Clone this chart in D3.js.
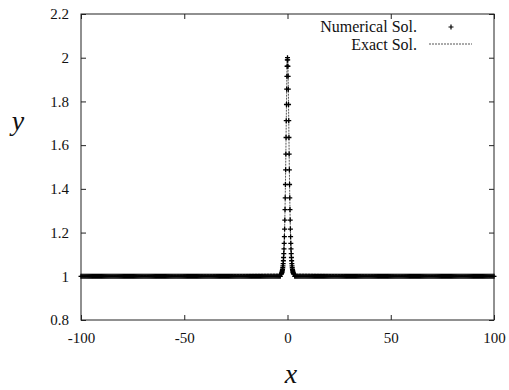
<!DOCTYPE html>
<html>
<head>
<meta charset="utf-8">
<script src="https://cdn.jsdelivr.net/npm/d3@7"></script>
<style>
  html, body { margin: 0; padding: 0; background: #fff; }
</style>
</head>
<body>
<div id="chart"></div>
<script>
// tick labels
const xTicks = [-100, -50, 0, 50, 100];
const yTicks = [0.8, 1, 1.2, 1.4, 1.6, 1.8, 2, 2.2];

// numerical solution around the peak
const peakX = [-3, -2.9, -2.8, -2.7, -2.6, -2.5, -2.4, -2.3, -2.2, -2.1, -2, -1.9, -1.8, -1.7, -1.6,
  -1.5, -1.4, -1.3, -1.2, -1.1, -1, -0.9, -0.8, -0.7, -0.6, -0.5, -0.4, -0.3, -0.2, -0.1, 0,
  0.1, 0.2, 0.3, 0.4, 0.5, 0.6, 0.7, 0.8, 0.9, 1, 1.1, 1.2, 1.3, 1.4, 1.5,
  1.6, 1.7, 1.8, 1.9, 2, 2.1, 2.2, 2.3, 2.4, 2.5, 2.6, 2.7, 2.8, 2.9, 3];
const peakY = [1.010, 1.012, 1.015, 1.018, 1.022, 1.027, 1.032, 1.039, 1.048, 1.058, 1.071, 1.086, 1.104, 1.125, 1.151,
  1.181, 1.216, 1.257, 1.305, 1.359, 1.420, 1.487, 1.559, 1.635, 1.712, 1.786, 1.856, 1.915, 1.961, 1.990, 2.000,
  1.990, 1.961, 1.915, 1.856, 1.786, 1.712, 1.635, 1.559, 1.487, 1.420, 1.359, 1.305, 1.257, 1.216, 1.181,
  1.151, 1.125, 1.104, 1.086, 1.071, 1.058, 1.048, 1.039, 1.032, 1.027, 1.022, 1.018, 1.015, 1.012, 1.010];

// flat part of the solution: level and grid spacing of the numerical points
const flatLevel = 1;
const gridStep = 0.5;

const legendLabels = ["Numerical Sol.", "Exact Sol."];

const serif = "'Liberation Serif', 'DejaVu Serif', serif";

// layout
const width = 509, height = 390;
const margin = { top: 14, right: 15, bottom: 70, left: 81 };
const innerWidth = width - margin.left - margin.right;
const innerHeight = height - margin.top - margin.bottom;

const svg = d3.select("#chart").append("svg")
  .attr("width", width)
  .attr("height", height);

const plot = svg.append("g")
  .attr("transform", `translate(${margin.left},${margin.top})`);

const x = d3.scaleLinear().domain([-100, 100]).range([0, innerWidth]);
const y = d3.scaleLinear().domain([0.8, 2.2]).range([innerHeight, 0]);

// numerical points: flat grid + peak
const numerical = [];
d3.range(-100, 100 + gridStep / 2, gridStep).forEach(v => {
  if (Math.abs(v) > 3.05) numerical.push([v, flatLevel]);
});
peakX.forEach((v, i) => numerical.push([v, peakY[i]]));
numerical.sort((a, b) => a[0] - b[0]);

// exact solution line
const exact = [[-100, flatLevel]].concat(peakX.map((v, i) => [v, peakY[i]]), [[100, flatLevel]]);

plot.append("clipPath").attr("id", "clip")
  .append("rect").attr("x", -3).attr("width", innerWidth + 6).attr("height", innerHeight);

// axes (ticks inward, mirrored)
const tick = 5;
plot.append("g")
  .attr("transform", `translate(0,${innerHeight})`)
  .call(d3.axisBottom(x).tickValues(xTicks).tickSizeInner(-tick).tickSizeOuter(0).tickPadding(12)
    .tickFormat(d => d < 0 ? "-" + Math.abs(d) : d))
  .call(g => g.select(".domain").remove())
  .call(g => g.selectAll("text").style("font-size", "15px").style("font-family", serif).attr("fill", "#111"));

plot.append("g")
  .call(d3.axisLeft(y).tickValues(yTicks).tickSizeInner(-tick).tickSizeOuter(0).tickPadding(12)
    .tickFormat(d3.format("")))
  .call(g => g.select(".domain").remove())
  .call(g => g.selectAll("text").style("font-size", "15px").style("font-family", serif).attr("fill", "#111"));

plot.append("g")
  .call(d3.axisTop(x).tickValues(xTicks).tickSizeInner(-tick).tickSizeOuter(0).tickFormat(""))
  .call(g => g.select(".domain").remove());

plot.append("g")
  .attr("transform", `translate(${innerWidth},0)`)
  .call(d3.axisRight(y).tickValues(yTicks).tickSizeInner(-tick).tickSizeOuter(0).tickFormat(""))
  .call(g => g.select(".domain").remove());

plot.selectAll(".tick line").attr("stroke", "#222");

// frame
plot.append("rect")
  .attr("width", innerWidth)
  .attr("height", innerHeight)
  .attr("fill", "none")
  .attr("stroke", "#222")
  .attr("stroke-width", 1);

const data = plot.append("g").attr("clip-path", "url(#clip)");

// exact line
data.append("path")
  .datum(exact)
  .attr("fill", "none")
  .attr("stroke", "#555")
  .attr("stroke-width", 1)
  .attr("stroke-dasharray", "2,1")
  .attr("d", d3.line().x(d => x(d[0])).y(d => y(d[1])));

// numerical markers
const plus = "M-2.5,0h5M0,-2.5v5";
data.selectAll(".pt")
  .data(numerical)
  .join("path")
  .attr("class", "pt")
  .attr("transform", d => `translate(${x(d[0])},${y(d[1])})`)
  .attr("d", plus)
  .attr("stroke", "#000")
  .attr("stroke-width", 1.3)
  .attr("fill", "none");

// legend
const legend = svg.append("g");
legend.selectAll("text")
  .data(legendLabels)
  .join("text")
  .attr("x", 417)
  .attr("y", (d, i) => 32 + i * 18)
  .attr("text-anchor", "end")
  .style("font-family", serif)
  .style("font-size", "16px")
  .attr("fill", "#111")
  .text(d => d);

legend.append("path")
  .attr("transform", "translate(451,27)")
  .attr("d", plus)
  .attr("stroke", "#000")
  .attr("stroke-width", 1.2);

legend.append("line")
  .attr("x1", 429).attr("x2", 472)
  .attr("y1", 44).attr("y2", 44)
  .attr("stroke", "#555")
  .attr("stroke-dasharray", "2,1");

// axis titles
svg.append("text")
  .attr("x", 18)
  .attr("y", 130)
  .attr("text-anchor", "middle")
  .style("font-family", serif)
  .style("font-size", "28px")
  .style("font-style", "italic")
  .attr("fill", "#111")
  .text("y");

svg.append("text")
  .attr("x", 291)
  .attr("y", 383)
  .attr("text-anchor", "middle")
  .style("font-family", serif)
  .style("font-size", "28px")
  .style("font-style", "italic")
  .attr("fill", "#111")
  .text("x");
</script>
</body>
</html>
